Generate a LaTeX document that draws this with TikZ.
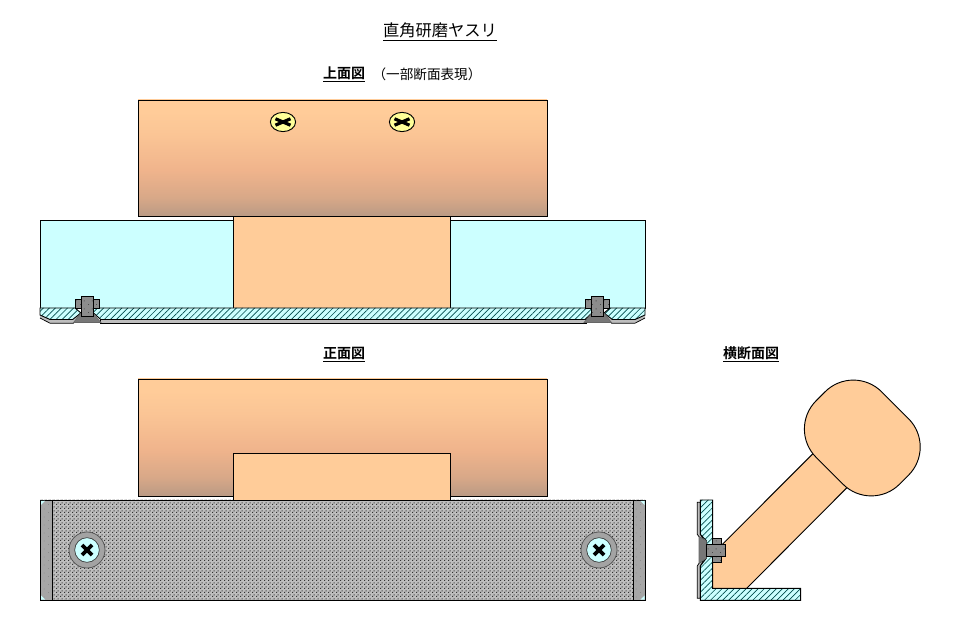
\documentclass[tikz,border=0pt]{standalone}
\usepackage{fontspec}
\setmainfont{Noto Sans CJK JP}[BoldFont={Noto Sans CJK JP Bold}]
\usetikzlibrary{patterns,patterns.meta,shapes.geometric}
\definecolor{peach}{HTML}{FFCC99}
\definecolor{peachmid}{HTML}{F0B48C}
\definecolor{peachlow}{HTML}{D8A888}
\definecolor{peachdark}{HTML}{BA9A84}
\definecolor{icecyan}{HTML}{CCFFFF}
\definecolor{hatchline}{HTML}{004C4C}
\definecolor{screwyellow}{HTML}{FFFF99}
\definecolor{plategrey}{HTML}{BEBEBE}
\definecolor{stripgrey}{HTML}{A6A6A6}
\definecolor{boltgrey}{HTML}{8C8C8C}
\pgfdeclarepatternformonly{platedots}{\pgfpointorigin}{\pgfpoint{3pt}{3pt}}{\pgfpoint{3pt}{3pt}}{
  \pgfpathrectangle{\pgfpoint{0pt}{0pt}}{\pgfpoint{1pt}{1pt}}
  \pgfpathrectangle{\pgfpoint{1.5pt}{1.5pt}}{\pgfpoint{1pt}{1pt}}
  \pgfusepath{fill}}
\pgfdeclarepatternformonly{sparsedots}{\pgfpointorigin}{\pgfpoint{6pt}{6pt}}{\pgfpoint{6pt}{6pt}}{
  \pgfpathrectangle{\pgfpoint{0pt}{0pt}}{\pgfpoint{.7pt}{.7pt}}
  \pgfpathrectangle{\pgfpoint{3pt}{3pt}}{\pgfpoint{.7pt}{.7pt}}
  \pgfusepath{fill}}
\pgfdeclareverticalshading{woodshade}{100bp}{
  color(0bp)=(peachdark); color(25bp)=(peachdark); color(33bp)=(peachlow); color(45bp)=(peachmid); color(60bp)=(peach!70!peachmid); color(70bp)=(peach); color(100bp)=(peach)}
\tikzset{
  x=.75pt,y=-.75pt,
  outline/.style={draw=black,line width=.7pt},
  grad/.style={outline,shading=woodshade},
  wood/.style={outline,fill=peach},
  glass/.style={outline,fill=icecyan},
  hatched/.style={outline,preaction={fill=icecyan},pattern={Lines[angle=45,distance=3.2pt,line width=.5pt]},pattern color=hatchline},
  band/.style={outline,fill=plategrey,line width=.55pt},
  bolt/.style={outline,preaction={fill=boltgrey},pattern=sparsedots,pattern color=black!70},
  head/.style={draw=black!60,line width=.4pt,fill=boltgrey!85!black},
  plate/.style={outline,preaction={fill=plategrey},pattern=platedots,pattern color=black!80},
  strip/.style={fill=stripgrey},
  stripdots/.style={pattern=sparsedots,pattern color=black!45},
  cross/.style={line width=2.9pt,black},
  title/.style={font=\fontsize{12.2pt}{14pt}\selectfont,inner sep=0pt},
  heading/.style={font=\fontsize{10.5pt}{12pt}\selectfont\bfseries,inner sep=0pt},
  note/.style={font=\fontsize{10.2pt}{12pt}\selectfont,inner sep=0pt},
}
\newcommand{\sideprofile}{%
  \fill[plategrey] (40,315) -- (50,319.3) -- (72.7,319.3) -- (80,313) -- (81,316) -- (73.5,323.2) -- (50,323.2) -- (40,318) -- cycle;
  \draw[black,line width=.55pt] (40,318) -- (50,323.2) -- (73.5,323.2) -- (81,316);
  \draw[hatched] (40,308) -- (75,308) -- (81,313) -- (72.7,319.5) -- (50,319.5) -- (40,315) -- cycle;
  \draw[head] (81,313) -- (93,313) -- (101,322.5) -- (73.5,322.5) -- cycle;
  \draw[bolt] (75.3,299.3) rectangle (99.7,308.3);
  \draw[bolt] (81.3,296) rectangle (93.7,316);
}
\newcommand{\frontscrew}[2]{%
  \draw[draw=black!70,line width=.5pt,fill=boltgrey!80!white] (#1,#2) circle (18);
  \draw[draw=black!80,line width=.5pt,fill=icecyan] (#1,#2) circle (12.3);
  \draw[cross] (#1-5,#2-5) -- (#1+5,#2+5) (#1-5,#2+5) -- (#1+5,#2-5);
}
\newcommand{\topscrew}[2]{%
  \draw[black,line width=.7pt,fill=screwyellow] (#1,#2) ellipse (12.6 and 9.6);
  \draw[black,line width=2.4pt] (#1-7.5,#2-3.2) -- (#1+7.5,#2+3.2) (#1-7.5,#2+3.2) -- (#1+7.5,#2-3.2);
}
\begin{document}
\begin{tikzpicture}
\useasboundingbox (0,0) rectangle (961,641);
% texts
\node[title] (maintitle) at (440,32) {\underline{直角研磨ヤスリ}};
\node[heading] (topview) at (344,74.5) {\underline{上面図}};
\node[note] (topnote) at (427,74.5) {（一部断面表現）};
\node[heading] (frontview) at (344,354.5) {\underline{正面図}};
\node[heading] (crossview) at (751,354.5) {\underline{横断面図}};
% top view
\draw[grad] (138,100) rectangle (547,216);
\topscrew{283}{122}
\topscrew{402}{122}
\draw[glass] (40,220) rectangle (645,308);
\draw[wood] (233,216) rectangle (450,308);
\draw[band] (100,319.5) rectangle (586,323.2);
\draw[hatched] (93.5,308) -- (592,308) -- (592,313) -- (585,319.5) -- (100.7,319.5) -- (93.5,313) -- cycle;
\sideprofile
\begin{scope}[shift={(685,0)},xscale=-1]
\sideprofile
\end{scope}
% front view
\draw[grad] (138,379) rectangle (547,496);
\draw[plate] (40,500) rectangle (645,600);
\fill[strip] (41,501) rectangle (52,599.5);
\fill[stripdots] (41,501) rectangle (52,599.5);
\draw[black,line width=.6pt] (52,500) -- (52,600);
\fill[strip] (633,501) rectangle (644.5,599.5);
\fill[stripdots] (633,501) rectangle (644.5,599.5);
\draw[black,line width=.6pt] (633,500) -- (633,600);
\fill[icecyan] (41,501) -- (45,501) -- (41,505) -- cycle;
\fill[icecyan] (644.5,501) -- (640.5,501) -- (644.5,505) -- cycle;
\fill[icecyan] (41,599.5) -- (45,599.5) -- (41,595.5) -- cycle;
\fill[icecyan] (644.5,599.5) -- (640.5,599.5) -- (644.5,595.5) -- cycle;
\draw[wood] (233,453) rectangle (450,500);
\frontscrew{87}{550}
\frontscrew{599}{550}
% cross section
\fill[peach] (721.7,545) -- (813.3,453.3) -- (847.3,487.3) -- (746.7,588.3) -- (712.7,588.3) -- (712.7,545) -- cycle;
\draw[outline] (721.7,545) -- (813.3,453.3) (847.3,487.3) -- (746.7,588.3);
\node[wood,rectangle,rounded corners=30pt,minimum width=88.5pt,minimum height=69.5pt,inner sep=0pt,rotate=-45] (grip) at (862.3,438) {};
\draw[band] (697.3,502.3) -- (700.3,502.3) -- (700.3,534.3) -- (704,540) -- (699,536.7) -- (697.3,534.3) -- cycle;
\draw[band] (697.3,598.3) -- (700.3,598.3) -- (700.3,566) -- (704,560) -- (699,563.3) -- (697.3,566) -- cycle;
\draw[hatched] (700.3,500) -- (712.7,500) -- (712.7,588.3) -- (800.7,588.3) -- (800.7,600.3) -- (700.3,600.3) -- (700.3,566) -- (706.3,558.3) -- (706.3,540.7) -- (700.3,534.3) -- cycle;
\draw[head] (699,536.7) -- (706.3,540.7) -- (706.3,558.3) -- (699,563.3) -- cycle;
\draw[bolt] (712.7,538.3) rectangle (721.7,562.3);
\draw[bolt] (706.3,544.3) rectangle (725.7,556.7);
\end{tikzpicture}
\end{document}
